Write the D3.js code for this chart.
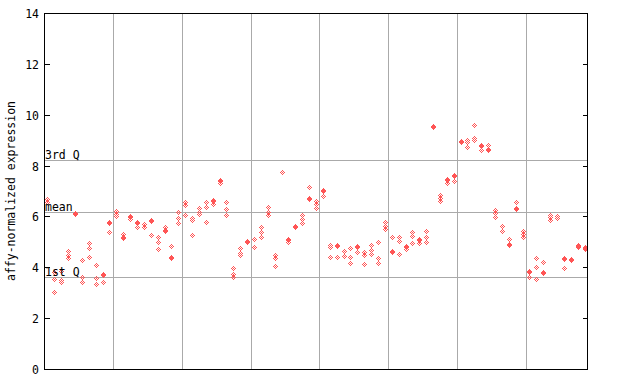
<!DOCTYPE html>
<html><head><meta charset="utf-8">
<script src="https://cdn.jsdelivr.net/npm/d3@7"></script>
<style>html,body{margin:0;padding:0;background:#fff;} svg{display:block;} text{font-family:"DejaVu Sans Mono",monospace;font-size:11.5px;fill:#000;}</style>
</head><body>
<script>
// replicate values per sample (null = no replicate)
const rep1 = [6.68,3.83,3.87,4.65,6.15,4.29,4.95,4.09,3.73,5.78,6.23,5.32,6.02,5.78,5.69,5.86,5.18,5.58,4.84,6.17,
  6.55,5.93,6.33,6.55,6.65,7.44,6.55,3.96,4.75,5.03,5.1,5.6,6.37,4.48,7.73,5.12,5.62,6.05,7.15,6.59,
  7.05,4.88,4.88,4.63,4.75,4.84,4.59,4.86,5.01,5.8,5.18,5.21,4.84,5.38,5.1,5.43,9.57,6.85,7.46,7.63,
  8.96,9.02,9.59,8.81,8.82,6.26,5.63,5.1,6.55,5.41,3.85,4.36,4.2,6.06,6.0,4.36,4.31,4.86,4.78];
const rep2 = [6.55,3.54,3.5,4.49,6.08,3.63,4.75,3.57,3.68,5.73,6.08,5.2,5.98,5.73,5.6,5.82,5.0,5.47,4.4,5.93,
  6.46,5.87,6.19,6.37,6.6,7.38,6.29,3.74,4.58,4.98,4.79,5.38,6.19,4.38,null,5.08,5.57,5.89,6.74,6.5,
  7.0,4.79,4.84,4.45,4.4,4.8,4.49,4.69,4.36,5.63,4.64,5.05,4.78,5.24,5.06,5.21,9.51,6.72,7.42,7.58,
  8.91,8.91,9.08,8.77,8.66,6.13,5.43,4.9,6.32,5.3,3.8,4.0,3.81,5.97,5.93,4.32,4.27,4.82,4.74];
const rep3 = [null,3.02,3.43,4.38,null,3.41,4.4,3.33,3.41,5.38,6.02,5.16,5.9,5.6,null,5.27,4.71,5.43,4.36,5.76,
  6.06,5.27,6.09,5.78,6.5,7.33,6.05,3.63,4.48,null,null,5.21,6.05,4.06,null,5.0,null,5.74,6.68,6.33,
  6.81,4.4,4.4,null,4.16,4.62,4.12,4.53,4.16,5.5,4.6,4.52,4.71,4.95,4.97,4.99,null,6.59,7.33,7.4,
  null,8.73,9.0,8.6,8.62,5.97,null,4.86,6.28,5.18,3.63,3.53,3.77,5.87,null,3.96,null,4.78,4.71];
const groupBounds = [9.5,19.5,29.5,39.5,49.5,59.5,69.5];
const refLines = [{label:"3rd Q", v:8.22},{label:"mean", v:6.18},{label:"1st Q", v:3.61}];
const yTicks = [0,2,4,6,8,10,12,14];
const yTitle = "affy-normalized expression";

const W=640,H=384;
const L=44,R=587,T=13,B=369;
const svg=d3.select("body").append("svg").attr("width",W).attr("height",H);
const n=rep1.length;
const x=d3.scaleLinear().domain([-0.5,n-0.5]).range([L,R+1]);
const y=d3.scaleLinear().domain([0,14]).range([B,T]);
const red="#ff5555", grid="#aaaaaa";

// grid lines
svg.selectAll("line.vg").data(groupBounds).join("line")
  .attr("x1",d=>Math.round(x(d))+0.5).attr("x2",d=>Math.round(x(d))+0.5)
  .attr("y1",T).attr("y2",B).attr("stroke",grid).attr("stroke-width",1);
svg.selectAll("line.hg").data(refLines).join("line")
  .attr("x1",L).attr("x2",R).attr("y1",d=>Math.round(y(d.v))+0.5).attr("y2",d=>Math.round(y(d.v))+0.5)
  .attr("stroke",grid).attr("stroke-width",1);

// points
const pts=[];
[rep1,rep2,rep3].forEach(arr=>arr.forEach((v,i)=>{ if(v!=null) pts.push({i,v}); }));
const offs=[[0,0],[-1,-1],[1,-1],[-1,1],[1,1],[-2,0],[2,0],[0,-2],[0,2]];
let p="";
pts.forEach(d=>{
  const cx=Math.round(x(d.i)), cy=Math.round(y(d.v));
  offs.forEach(o=>{ p+=`M${cx+o[0]},${cy+o[1]}h1v1h-1z`; });
});
svg.append("path").attr("d",p).attr("fill",red).attr("shape-rendering","crispEdges");

// frame
svg.append("rect").attr("x",L+0.5).attr("y",T+0.5).attr("width",R-L).attr("height",B-T)
  .attr("fill","none").attr("stroke","#000").attr("stroke-width",1);

// ticks
yTicks.forEach(t=>{
  const yy=Math.round(y(t))+0.5;
  svg.append("line").attr("x1",L).attr("x2",L+6).attr("y1",yy).attr("y2",yy).attr("stroke","#000");
  svg.append("line").attr("x1",R-4).attr("x2",R+1).attr("y1",yy).attr("y2",yy).attr("stroke","#000");
  svg.append("text").attr("x",39).attr("y",yy).attr("dy","0.35em").attr("text-anchor","end").text(t);
});

// ref labels
refLines.forEach(d=>{
  svg.append("text").attr("x",L+1).attr("y",Math.round(y(d.v))-1).text(d.label);
});

// y title
svg.append("text").attr("transform",`translate(15,${(T+B)/2}) rotate(-90)`).attr("text-anchor","middle").text(yTitle);
</script>
</body></html>
